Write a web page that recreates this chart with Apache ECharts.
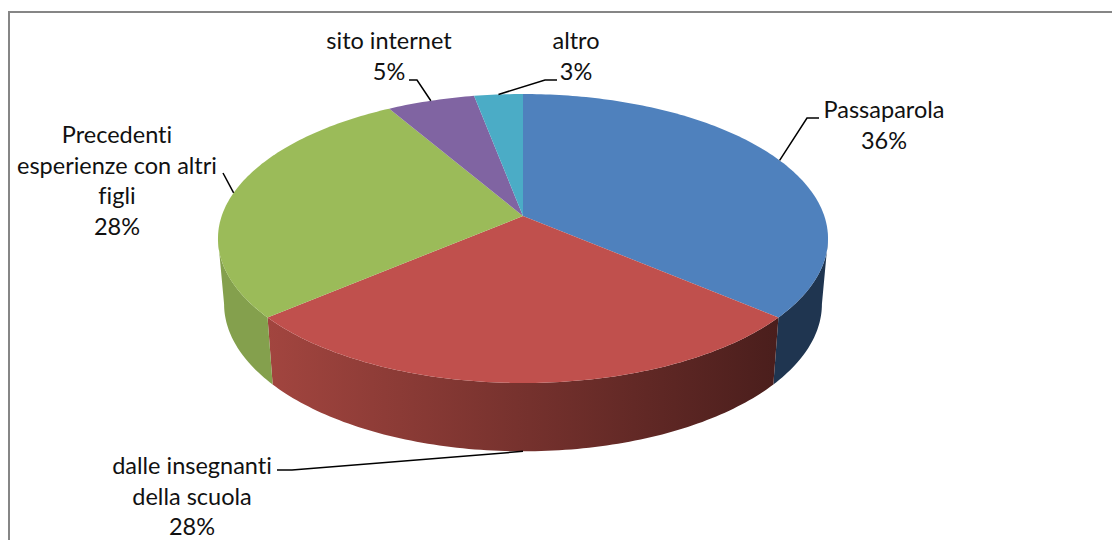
<!DOCTYPE html>
<html>
<head>
<meta charset="utf-8">
<style>
  html, body { margin: 0; padding: 0; background: #fff; }
  #chart { width: 1112px; height: 540px; }
  #chart text { font-variant-ligatures: none; }
</style>
<script src="https://cdn.jsdelivr.net/npm/echarts@6/dist/echarts.min.js"></script>
</head>
<body>
<div id="chart"></div>
<script>
const categories = ['Passaparola', 'dalle insegnanti\ndella scuola', 'Precedenti\nesperienze con altri\nfigli', 'sito internet', 'altro'];
const shares = [36.2, 27.6, 27.8, 5.4, 3];

const topColors = ['#4f81bd', '#c0504d', '#9bbb59', '#8064a2', '#4bacc6'];
const wallColors = [
  ['#1f3550', '#1f3550'],
  ['#a2453f', '#4a1e1c'],
  ['#84a04d', '#84a04d'],
  ['#5f4a78', '#5f4a78'],
  ['#38808f', '#38808f']
];

// label box centre, then elbow of the leader line and where it stops
const labelLayout = [
  { x: 884, y: 124.5, elbow: [807, 118], end: [819, 118] },
  { x: 192, y: 495.5, elbow: [292, 470], end: [277, 470] },
  { x: 117, y: 180, end: [223, 173] },
  { x: 389, y: 55.5, elbow: [417, 80], end: [409, 80] },
  { x: 576, y: 55.5, elbow: [545, 80], end: [557, 80] }
];

// perspective disc: top face and bottom face of the pie
const disc = { cx: 523, cy: 216, a: 301.3, b: 141, p: 0.1557 };
const base = { cy: 281, scaleX: 0.98, scaleY: 1.02 };
const STEP = Math.PI / 180;
// walls only show between the two silhouette angles
const FRONT_FROM = Math.acos(-disc.p);
const FRONT_TO = Math.PI * 2 - FRONT_FROM;

const total = shares.reduce((s, v) => s + v, 0);
const startOf = (i) => shares.slice(0, i).reduce((s, v) => s + v, 0) / total * Math.PI * 2;

const project = (t, face) => {
  const u = Math.sin(t);
  const v = Math.cos(t);
  const w = 1 + disc.p * v;
  if (face === 'base') {
    return [disc.cx + (base.scaleX * disc.a * u) / w, base.cy - (base.scaleY * disc.b * v) / w];
  }
  return [disc.cx + (disc.a * u) / w, disc.cy - (disc.b * v) / w];
};

const arc = (t0, t1, face) => {
  const pts = [];
  const n = Math.max(2, Math.ceil((t1 - t0) / STEP));
  for (let k = 0; k <= n; k++) pts.push(project(t0 + ((t1 - t0) * k) / n, face));
  return pts;
};

const renderWall = (params, api) => {
  const i = params.dataIndex;
  const t0 = Math.max(startOf(i), FRONT_FROM);
  const t1 = Math.min(startOf(i) + (api.value(0) / total) * Math.PI * 2, FRONT_TO);
  if (t1 <= t0) return null;
  return {
    type: 'polygon',
    shape: { points: arc(t0, t1, 'top').concat(arc(t0, t1, 'base').reverse()) },
    style: {
      fill: new echarts.graphic.LinearGradient(0, 0, 1, 0, [
        { offset: 0, color: wallColors[i][0] },
        { offset: 1, color: wallColors[i][1] }
      ])
    }
  };
};

const renderTop = (params, api) => {
  const i = params.dataIndex;
  const t0 = startOf(i);
  const t1 = t0 + (api.value(0) / total) * Math.PI * 2;
  return {
    type: 'polygon',
    shape: { points: [[disc.cx, disc.cy]].concat(arc(t0, t1, 'top')) },
    style: { fill: topColors[i] }
  };
};

const renderLabel = (params, api) => {
  const i = params.dataIndex;
  const value = api.value(0);
  const mid = startOf(i) + ((value / total) * Math.PI * 2) / 2;
  const layout = labelLayout[i];
  // front slice points at the lower rim, the rest at the top rim
  const anchor = project(mid, Math.cos(mid) < -0.99 ? 'base' : 'top');
  const line = [anchor];
  if (layout.elbow) line.push(layout.elbow);
  line.push(layout.end);
  return {
    type: 'group',
    children: [
      {
        type: 'polyline',
        shape: { points: line },
        style: { stroke: '#000', lineWidth: 1.5, fill: null }
      },
      {
        type: 'text',
        style: {
          text: categories[i] + '\n' + Math.round(value) + '%',
          x: layout.x,
          y: layout.y,
          align: 'center',
          verticalAlign: 'middle',
          fontFamily: 'Lato',
          fontSize: 23.5,
          lineHeight: 30.7,
          fill: '#111'
        }
      }
    ]
  };
};

const chart = echarts.init(document.getElementById('chart'), null, { renderer: 'svg' });
chart.setOption({
  animation: false,
  backgroundColor: '#fff',
  graphic: [
    {
      type: 'polyline',
      silent: true,
      shape: { points: [[9, 540], [9, 12], [1112, 12]] },
      style: { stroke: '#868686', lineWidth: 2, fill: null }
    }
  ],
  series: [
    { type: 'custom', coordinateSystem: 'none', silent: true, z: 2, renderItem: renderWall, data: shares },
    { type: 'custom', coordinateSystem: 'none', silent: true, z: 3, renderItem: renderTop, data: shares },
    { type: 'custom', coordinateSystem: 'none', silent: true, z: 4, renderItem: renderLabel, data: shares }
  ]
});
window.addEventListener('resize', () => chart.resize());
</script>
</body>
</html>
